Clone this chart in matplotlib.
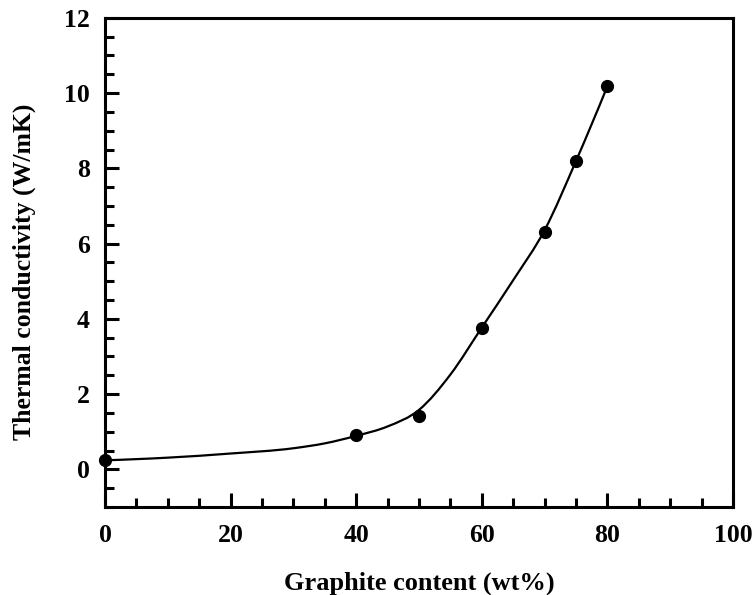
import numpy as np
import matplotlib
matplotlib.use('Agg')
import matplotlib.pyplot as plt
from matplotlib.path import Path
from matplotlib.patches import PathPatch
from matplotlib.ticker import MultipleLocator

# measured points
graphite = [0, 40, 50, 60, 70, 75, 80]
conductivity = [0.25, 0.90, 1.41, 3.75, 6.32, 8.20, 10.19]

# knots of the smooth trend line
trend_x = [0, 10, 20, 30, 35, 40, 45, 50, 55, 60, 65, 70, 75, 80]
trend_y = [0.24, 0.31, 0.42, 0.56, 0.69, 0.89, 1.14, 1.58, 2.52, 3.77, 5.03,
           6.36, 8.20, 10.19]

plt.rcParams['font.family'] = ['Liberation Serif', 'DejaVu Serif']
plt.rcParams['font.weight'] = 'bold'


def smooth_path(xs, ys):
    # cubic Hermite with Bessel slopes, written as Bezier segments
    xs = np.asarray(xs, float)
    ys = np.asarray(ys, float)
    h = np.diff(xs)
    sec = np.diff(ys) / h
    m = np.empty_like(xs)
    m[1:-1] = (h[1:] * sec[:-1] + h[:-1] * sec[1:]) / (h[:-1] + h[1:])
    m[0] = 2 * sec[0] - m[1]
    m[-1] = 2 * sec[-1] - m[-2]
    verts = [(xs[0], ys[0])]
    codes = [Path.MOVETO]
    for i in range(len(xs) - 1):
        verts += [(xs[i] + h[i] / 3, ys[i] + m[i] * h[i] / 3),
                  (xs[i + 1] - h[i] / 3, ys[i + 1] - m[i + 1] * h[i] / 3),
                  (xs[i + 1], ys[i + 1])]
        codes += [Path.CURVE4] * 3
    return Path(verts, codes)


fig = plt.figure(figsize=(7.55, 5.95), dpi=100)
ax = fig.add_axes([0.139, 0.148, 0.832, 0.822])

ax.add_patch(PathPatch(smooth_path(trend_x, trend_y), facecolor='none',
                       edgecolor='black', lw=1.6))
ax.plot(graphite, conductivity, 'o', color='black', markersize=8.5,
        zorder=3, clip_on=False)

ax.set_xlim(0, 100)
ax.set_ylim(-1, 12)
ax.xaxis.set_major_locator(MultipleLocator(20))
ax.xaxis.set_minor_locator(MultipleLocator(5))
ax.yaxis.set_major_locator(MultipleLocator(2))
ax.yaxis.set_minor_locator(MultipleLocator(0.5))

for s in ax.spines.values():
    s.set_linewidth(2.2)
ax.tick_params(which='both', direction='in', top=False, right=False, width=2.2)
ax.tick_params(which='major', length=10, labelsize=18.5)
ax.tick_params(axis='x', which='major', pad=12)
ax.tick_params(axis='y', which='major', pad=11)
ax.tick_params(which='minor', length=6.5)

ax.set_xlabel('Graphite content (wt%)', fontsize=19, fontweight='bold', labelpad=18)
ax.set_ylabel('Thermal conductivity (W/mK)', fontsize=18.5, fontweight='bold', labelpad=20)
ax.yaxis.label.set_y(0.48)

fig.savefig('out.png', dpi=100)
